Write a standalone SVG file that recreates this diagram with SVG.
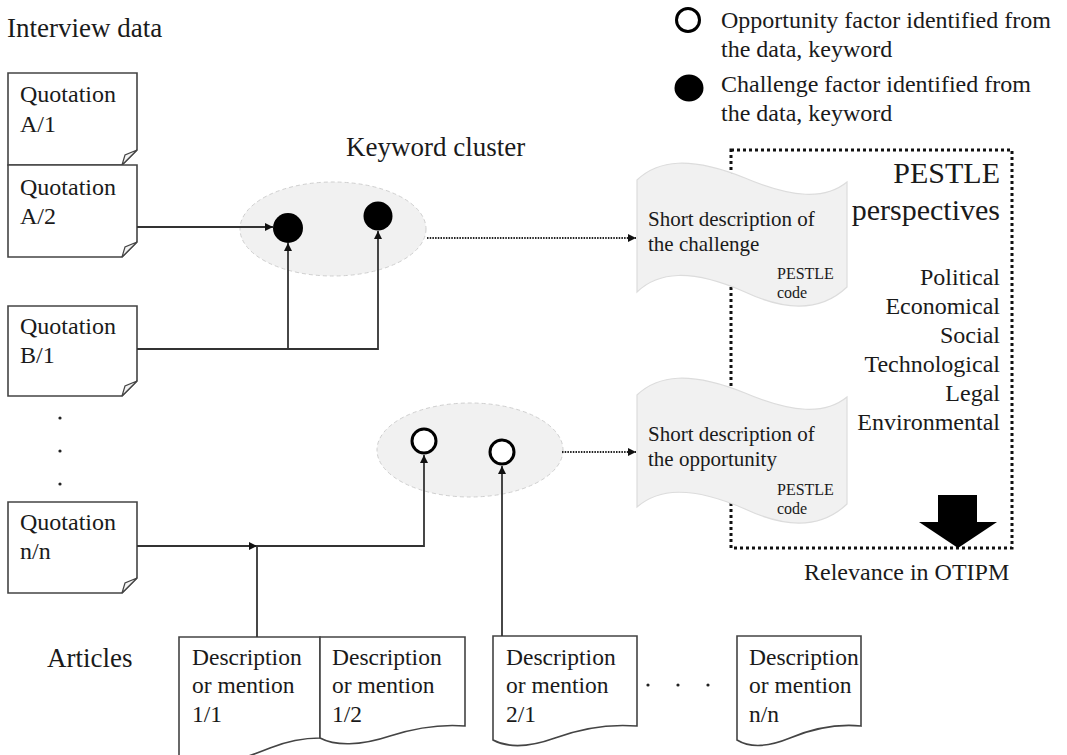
<svg xmlns="http://www.w3.org/2000/svg" width="1067" height="755" viewBox="0 0 1067 755" font-family="'Liberation Serif', 'Times New Roman', Times, 'DejaVu Serif', serif">
<style>
text{fill:#1a1a1a}
.t24{font-size:24px}
.t23{font-size:23.5px}
.t27{font-size:27px}
.t21{font-size:21px}
.t16{font-size:16px}
.t30{font-size:30px}
.doc{fill:#fff;stroke:#444;stroke-width:1.6}
.fold{fill:#f4f4f4;stroke:#444;stroke-width:1.2}
.conn{fill:none;stroke:#333;stroke-width:1.8}
.dot{fill:none;stroke:#222;stroke-width:1.8;stroke-dasharray:1.5 1.2}
.clu{fill:#f1f1f1;stroke:#cfcfcf;stroke-width:1;stroke-dasharray:4 3}
.wave{fill:#f1f1f1;stroke:#dcdcdc;stroke-width:1.2}
.open{fill:#fff;stroke:#000;stroke-width:3}
</style>
<defs>
<marker id="ah" viewBox="0 0 10 10" refX="10" refY="5" markerWidth="8" markerHeight="8" markerUnits="userSpaceOnUse" orient="auto">
<path d="M0,0 L10,5 L0,10 z" fill="#111"/>
</marker>
</defs>

<text id="lbl-interview" class="t27" x="7" y="37">Interview data</text>

<g id="legend">
<circle class="open" cx="688" cy="20" r="11.5"/>
<text class="t24" x="721" y="28">Opportunity factor identified from</text>
<text class="t24" x="721" y="57">the data, keyword</text>
<ellipse cx="689" cy="88" rx="14.5" ry="13.5" fill="#000"/>
<text class="t24" x="721" y="92">Challenge factor identified from</text>
<text class="t24" x="721" y="121">the data, keyword</text>
</g>

<g id="q-a1">
<path class="doc" d="M8,73 H137 V150 L122,165 H8 Z"/>
<path class="fold" d="M122,165 L125,155 L137,150 Z"/>
<text class="t24" x="20" y="102">Quotation</text>
<text class="t24" x="20" y="132">A/1</text>
</g>
<g id="q-a2">
<path class="doc" d="M8,165 H137 V242 L122,257 H8 Z"/>
<path class="fold" d="M122,257 L125,247 L137,242 Z"/>
<text class="t24" x="20" y="195">Quotation</text>
<text class="t24" x="20" y="224">A/2</text>
</g>
<g id="q-b1">
<path class="doc" d="M8,306 H137 V381 L122,396 H8 Z"/>
<path class="fold" d="M122,396 L125,386 L137,381 Z"/>
<text class="t24" x="20" y="334">Quotation</text>
<text class="t24" x="20" y="363">B/1</text>
</g>
<g id="q-dots" fill="#222">
<circle cx="60" cy="418" r="1.6"/>
<circle cx="60" cy="451" r="1.6"/>
<circle cx="60" cy="484" r="1.6"/>
</g>
<g id="q-nn">
<path class="doc" d="M8,502 H137 V578 L122,593 H8 Z"/>
<path class="fold" d="M122,593 L125,583 L137,578 Z"/>
<text class="t24" x="20" y="530">Quotation</text>
<text class="t24" x="20" y="559">n/n</text>
</g>

<text id="lbl-cluster" class="t27" x="346" y="156">Keyword cluster</text>

<g id="cluster-challenge">
<ellipse class="clu" cx="333" cy="229" rx="93" ry="47"/>
<circle cx="288" cy="228" r="15" fill="#000"/>
<circle cx="378" cy="216" r="14.5" fill="#000"/>
</g>
<g id="cluster-opportunity">
<ellipse class="clu" cx="470" cy="450" rx="93" ry="47"/>
<circle class="open" cx="424" cy="441" r="12"/>
<circle class="open" cx="502" cy="452" r="12"/>
</g>

<g id="pestle-box">
<rect x="731" y="150" width="281" height="398" fill="none" stroke="#111" stroke-width="3" stroke-dasharray="3 3"/>
<text class="t30" x="1000" y="183" text-anchor="end">PESTLE</text>
<text class="t30" x="1000" y="220" text-anchor="end">perspectives</text>
<g class="t24" text-anchor="end">
<text x="1000" y="285">Political</text>
<text x="1000" y="314">Economical</text>
<text x="1000" y="343">Social</text>
<text x="1000" y="372">Technological</text>
<text x="1000" y="401">Legal</text>
<text x="1000" y="430">Environmental</text>
</g>
<path d="M938,495 H977 V522 H997 L958,548 L919,522 H938 Z" fill="#000"/>
</g>
<text id="lbl-relevance" class="t24" x="804" y="580">Relevance in OTIPM</text>

<g id="challenge-desc">
<path class="wave" d="M637,180 C658,160 690,156 745,178 C792,198 825,200 847,182 V287 C825,308 792,314 745,292 C690,268 658,272 637,292 Z"/>
<text class="t21" x="648" y="226">Short description of</text>
<text class="t21" x="648" y="251">the challenge</text>
<text class="t16" x="777" y="279">PESTLE</text>
<text class="t16" x="777" y="298">code</text>
</g>
<g id="opportunity-desc">
<path class="wave" d="M637,395 C658,375 690,371 745,393 C792,413 825,415 847,397 V504 C825,525 792,531 745,509 C690,485 658,489 637,507 Z"/>
<text class="t21" x="648" y="441">Short description of</text>
<text class="t21" x="648" y="466">the opportunity</text>
<text class="t16" x="777" y="495">PESTLE</text>
<text class="t16" x="777" y="514">code</text>
</g>

<text id="lbl-articles" class="t27" x="47" y="667">Articles</text>

<g id="art-11">
<path class="doc" d="M179,770 V637 H320 V738 C305,738 290,740 270,748 C245,758 210,770 179,770 Z"/>
<text class="t23" x="192" y="665">Description</text>
<text class="t23" x="192" y="693">or mention</text>
<text class="t23" x="192" y="722">1/1</text>
</g>
<g id="art-12">
<path class="doc" d="M320,738 V637 H465 V726 C440,724 415,728 390,736 C360,746 335,746 320,738 Z"/>
<text class="t23" x="332" y="665">Description</text>
<text class="t23" x="332" y="693">or mention</text>
<text class="t23" x="332" y="722">1/2</text>
</g>
<g id="art-21">
<path class="doc" d="M493,740 V636 H637 V726 C612,724 582,728 555,738 C530,747 508,748 493,740 Z"/>
<text class="t23" x="506" y="665">Description</text>
<text class="t23" x="506" y="693">or mention</text>
<text class="t23" x="506" y="722">2/1</text>
</g>
<g id="art-dots" fill="#222">
<circle cx="648" cy="685" r="1.6"/>
<circle cx="678" cy="685" r="1.6"/>
<circle cx="708" cy="685" r="1.6"/>
</g>
<g id="art-nn">
<path class="doc" d="M737,740 V636 H861 V726 C840,724 814,728 790,738 C768,747 750,748 737,740 Z"/>
<text class="t23" x="749" y="665">Description</text>
<text class="t23" x="749" y="693">or mention</text>
<text class="t23" x="749" y="722">n/n</text>
</g>

<g id="connectors">
<path class="conn" d="M137,227 H273" marker-end="url(#ah)"/>
<path class="conn" d="M137,349 H378 V231" marker-end="url(#ah)"/>
<path class="conn" d="M288,349 V243" marker-end="url(#ah)"/>
<path class="conn" d="M137,546 H257" marker-end="url(#ah)"/>
<path class="conn" d="M257,637 V546 H424 V455" marker-end="url(#ah)"/>
<path class="conn" d="M502,636 V466" marker-end="url(#ah)"/>
<path class="dot" d="M427,238 H636" marker-end="url(#ah)"/>
<path class="dot" d="M562,452 H636" marker-end="url(#ah)"/>
</g>
</svg>
